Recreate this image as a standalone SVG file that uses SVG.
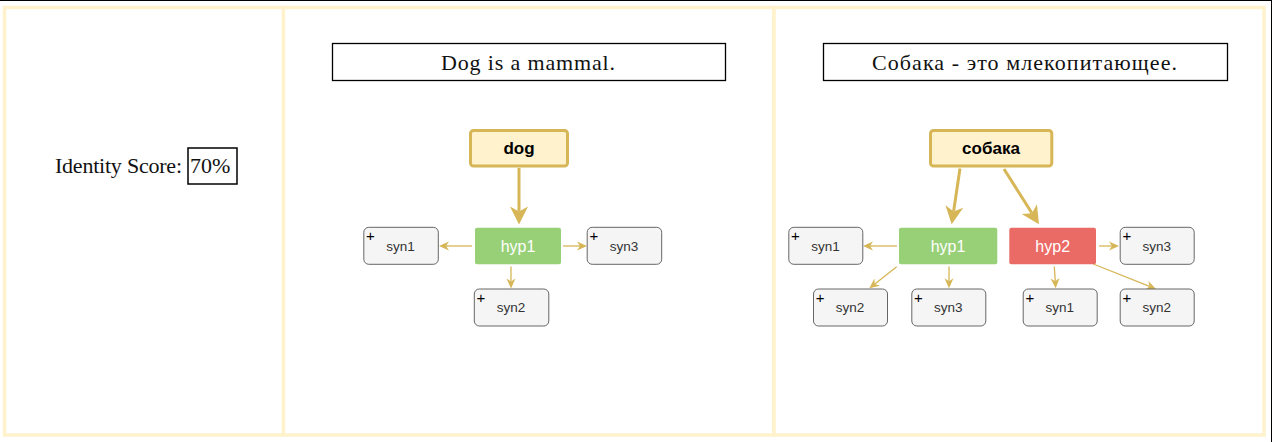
<svg xmlns="http://www.w3.org/2000/svg" width="1273" height="442" viewBox="0 0 1273 442">
<style>
.cell{fill:#ffffff;stroke:#fff2cc;stroke-width:3.5}
.title{fill:#ffffff;stroke:#000000;stroke-width:1.3}
.serif{font-family:"Liberation Serif","Times New Roman",serif;font-size:22px;fill:#111111}
.word rect{fill:#fff2cc;stroke:#d6b656;stroke-width:3}
.word text{font-family:"Liberation Sans",Arial,sans-serif;font-size:17px;font-weight:bold;fill:#000000;text-anchor:middle}
.hyp text{font-family:"Liberation Sans",Arial,sans-serif;font-size:16px;fill:#ffffff;text-anchor:middle}
.syn rect{fill:#f5f5f5;stroke:#666666;stroke-width:1}
.syn text{font-family:"Liberation Sans",Arial,sans-serif;font-size:13.5px;fill:#333333;text-anchor:middle}
.syn text.plus{font-size:15px;fill:#000000}
.thick{stroke:#d6b656;stroke-width:3;fill:none;marker-end:url(#ah-big)}
.thin{stroke:#d6b656;stroke-width:1.3;fill:none;marker-end:url(#ah-small)}
</style>
<defs>
<marker id="ah-big" markerUnits="userSpaceOnUse" markerWidth="18" markerHeight="18" refX="5" refY="9" orient="auto" overflow="visible">
<path d="M0,0 L18,9 L0,18 L5,9 Z" fill="#d6b656"/>
</marker>
<marker id="ah-small" markerUnits="userSpaceOnUse" markerWidth="10" markerHeight="9" refX="3" refY="4.5" orient="auto" overflow="visible">
<path d="M0,0 L10,4.5 L0,9 L3,4.5 Z" fill="#d6b656"/>
</marker>
</defs>
<rect x="0" y="0" width="1273" height="442" fill="#ffffff"/>
<line x1="0" y1="0.5" x2="1272" y2="0.5" stroke="#000000" stroke-width="1"/>
<line x1="1271.5" y1="0" x2="1271.5" y2="442" stroke="#000000" stroke-width="1"/>
<g id="table">
<rect class="cell" x="4.5" y="7.5" width="279" height="427.5"/>
<rect class="cell" x="283.5" y="7.5" width="490.5" height="427.5"/>
<rect class="cell" x="774" y="7.5" width="490" height="427.5"/>
</g>
<g id="score">
<text class="serif" x="55" y="173" textLength="127">Identity Score:</text>
<rect x="188" y="148" width="49" height="36" fill="#ffffff" stroke="#000000" stroke-width="1.5"/>
<text class="serif" x="190" y="173">70%</text>
</g>
<g id="title-en">
<rect class="title" x="332.5" y="43.5" width="393" height="37"/>
<text class="serif" x="441" y="69.5" textLength="174">Dog is a mammal.</text>
</g>
<g id="title-ru">
<rect class="title" x="823.5" y="43.5" width="404" height="37"/>
<text class="serif" x="872" y="69.5" textLength="305">Собака - это млекопитающее.</text>
</g>
<g id="connectors">
<line class="thick" x1="519" y1="168" x2="519" y2="211.5"/>
<line class="thin" x1="472" y1="246" x2="446" y2="246"/>
<line class="thin" x1="563" y1="246" x2="580" y2="246"/>
<line class="thin" x1="511" y1="266.5" x2="511" y2="281.5"/>
<line class="thick" x1="960" y1="168.5" x2="953.6" y2="211.4"/>
<line class="thick" x1="1004" y1="169" x2="1032" y2="213.3"/>
<line class="thin" x1="897" y1="246" x2="870" y2="246"/>
<line class="thin" x1="896.7" y1="266.7" x2="874.8" y2="284"/>
<line class="thin" x1="949" y1="266.5" x2="949" y2="281.3"/>
<line class="thin" x1="1099" y1="246" x2="1112" y2="246"/>
<line class="thin" x1="1054.3" y1="266.5" x2="1055.25" y2="281.3"/>
<line class="thin" x1="1093.3" y1="264" x2="1149.5" y2="286.4"/>
</g>
<g id="en-dog" class="word">
<rect x="470.5" y="130.5" width="97" height="35.5" rx="3"/>
<text x="519" y="154">dog</text>
</g>
<g id="en-hyp1" class="hyp">
<rect x="475" y="227.7" width="86" height="36.6" rx="2" fill="#97d077"/>
<text x="518" y="251.5">hyp1</text>
</g>
<g id="en-syn1" class="syn">
<rect x="363.8" y="227.3" width="74.5" height="37" rx="5"/>
<text class="plus" x="370.5" y="240.8">+</text>
<text x="400.5" y="250.5">syn1</text>
</g>
<g id="en-syn3" class="syn">
<rect x="587.2" y="227.3" width="74.5" height="37" rx="5"/>
<text class="plus" x="594" y="240.8">+</text>
<text x="624" y="250.5">syn3</text>
</g>
<g id="en-syn2" class="syn">
<rect x="474.3" y="289" width="74.5" height="37" rx="5"/>
<text class="plus" x="481" y="302.5">+</text>
<text x="511" y="312">syn2</text>
</g>
<g id="ru-sobaka" class="word">
<rect x="930.5" y="130.5" width="121.3" height="35.5" rx="3"/>
<text x="991" y="154">собака</text>
</g>
<g id="ru-hyp1" class="hyp">
<rect x="899" y="227.7" width="98.3" height="36.6" rx="2" fill="#97d077"/>
<text x="948" y="251.5">hyp1</text>
</g>
<g id="ru-hyp2" class="hyp">
<rect x="1009.3" y="227.7" width="86.7" height="36.6" rx="2" fill="#ea6b66"/>
<text x="1052.7" y="251.5">hyp2</text>
</g>
<g id="ru-hyp1-syn1" class="syn">
<rect x="788.8" y="227.3" width="74" height="37" rx="5"/>
<text class="plus" x="795.5" y="240.8">+</text>
<text x="825.5" y="250.5">syn1</text>
</g>
<g id="ru-hyp1-syn2" class="syn">
<rect x="813.5" y="289" width="74" height="37" rx="5"/>
<text class="plus" x="820.2" y="302.5">+</text>
<text x="850" y="312">syn2</text>
</g>
<g id="ru-hyp1-syn3" class="syn">
<rect x="911.8" y="289" width="74" height="37" rx="5"/>
<text class="plus" x="918.5" y="302.5">+</text>
<text x="948.3" y="312">syn3</text>
</g>
<g id="ru-hyp2-syn3" class="syn">
<rect x="1120.2" y="227.3" width="74" height="37" rx="5"/>
<text class="plus" x="1127" y="240.8">+</text>
<text x="1156.8" y="250.5">syn3</text>
</g>
<g id="ru-hyp2-syn1" class="syn">
<rect x="1023.2" y="289" width="74" height="37" rx="5"/>
<text class="plus" x="1030" y="302.5">+</text>
<text x="1059.8" y="312">syn1</text>
</g>
<g id="ru-hyp2-syn2" class="syn">
<rect x="1120.2" y="289" width="74" height="37" rx="5"/>
<text class="plus" x="1127" y="302.5">+</text>
<text x="1156.8" y="312">syn2</text>
</g>
</svg>
